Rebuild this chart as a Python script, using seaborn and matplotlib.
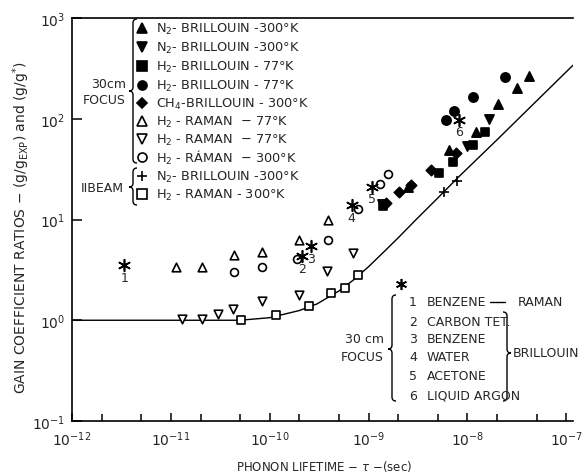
import matplotlib
matplotlib.use("Agg")
import matplotlib.pyplot as plt
import matplotlib.ticker as mticker
from matplotlib.path import Path
from matplotlib.patches import PathPatch
import seaborn as sns

# ---- measured values: phonon lifetime (s) and gain ratio ----
n2_bri_a_tau = [4.22e-8, 3.18e-8, 2.04e-8, 1.22e-8, 6.5e-9, 2.5e-9]
n2_bri_a_g = [267, 203, 141, 74, 49, 21]

n2_bri_b_tau = [1.66e-8, 9.9e-9, 1.36e-9]
n2_bri_b_g = [100, 54, 14.4]

h2_bri_sq_tau = [1.51e-8, 1.14e-8, 7.1e-9, 5.15e-9, 1.39e-9]
h2_bri_sq_g = [74, 55, 37.5, 29.2, 13.5]

h2_bri_ci_tau = [2.4e-8, 1.14e-8, 7.3e-9, 6.07e-9]
h2_bri_ci_g = [261, 165, 120, 98]

ch4_bri_tau = [7.66e-9, 4.28e-9, 2.02e-9, 1.49e-9, 2.68e-9]
ch4_bri_g = [46, 31.3, 18.9, 14.7, 22.2]

h2_ram77_up_tau = [1.13e-11, 2.08e-11, 4.4e-11, 8.45e-11, 1.96e-10, 3.85e-10]
h2_ram77_up_g = [3.35, 3.35, 4.4, 4.8, 6.3, 10.0]

h2_ram77_dn_tau = [1.3e-11, 2.08e-11, 3.0e-11, 4.3e-11, 8.4e-11, 1.96e-10, 3.77e-10, 6.9e-10]
h2_ram77_dn_g = [1.03, 1.03, 1.15, 1.28, 1.54, 1.77, 3.05, 4.6]

h2_ram300_tau = [4.4e-11, 8.45e-11, 1.87e-10, 3.85e-10, 7.9e-10, 1.3e-9, 1.57e-9]
h2_ram300_g = [3.0, 3.4, 4.1, 6.3, 12.6, 22.7, 28.5]

n2_beam_tau = [5.8e-9, 7.85e-9]
n2_beam_g = [18.9, 24.3]

h2_beam_tau = [5.1e-11, 1.17e-10, 2.5e-10, 4.2e-10, 5.8e-10, 7.8e-10]
h2_beam_g = [1.0, 1.12, 1.38, 1.85, 2.07, 2.79]

liquid_tau = [3.37e-12, 2.14e-10, 2.6e-10, 6.76e-10, 1.08e-9, 8.2e-9]
liquid_g = [3.5, 4.3, 5.4, 13.8, 21.2, 98]
liquid_ids = ["1", "2", "3", "4", "5", "6"]

# theoretical curve
theory_tau = [1e-12, 1e-11, 5e-11, 1e-10, 2e-10, 3e-10, 5e-10, 7e-10, 1e-9,
              1.5e-9, 2e-9, 3e-9, 5e-9, 8e-9, 2e-8, 5e-8, 1.17e-7]
theory_g = [1.0, 1.0, 1.0, 1.06, 1.25, 1.45, 1.95, 2.5, 3.4,
            5.0, 6.6, 9.9, 16.3, 26, 62, 150, 340]

x_tick_vals = [1e-12, 1e-11, 1e-10, 1e-9, 1e-8, 1e-7]
x_tick_labels = [r"$10^{-12}$", r"$10^{-11}$", r"$10^{-10}$", r"$10^{-9}$", r"$10^{-8}$", r"$10^{-7}$"]
y_tick_vals = [1e-1, 1e0, 1e1, 1e2, 1e3]
y_tick_labels = [r"$10^{-1}$", r"$10^{0}$", r"$10^{1}$", r"$10^{2}$", r"$10^{3}$"]

W, H = 587, 477
sns.set_style("ticks")
plt.rcParams["font.family"] = ["DejaVu Sans"]
plt.rcParams["mathtext.fontset"] = "dejavusans"

fig = plt.figure(figsize=(W / 100, H / 100), dpi=100)
ax = fig.add_axes([72 / W, 1 - 422 / H, (573 - 72) / W, (422 - 19) / H])
ax.set_xscale("log")
ax.set_yscale("log")


def P(x, y):
    return (x / W, 1 - y / H)


K = "black"
sns.lineplot(x=theory_tau, y=theory_g, color=K, lw=1.0, ax=ax, estimator=None, sort=False)

ASTER = (6, 2, 0)
series = [
    (n2_bri_a_tau, n2_bri_a_g, "^", True, 44),
    (n2_bri_b_tau, n2_bri_b_g, "v", True, 44),
    (h2_bri_sq_tau, h2_bri_sq_g, "s", True, 36),
    (h2_bri_ci_tau, h2_bri_ci_g, "o", True, 44),
    (ch4_bri_tau, ch4_bri_g, "D", True, 28),
    (h2_ram77_up_tau, h2_ram77_up_g, "^", False, 38),
    (h2_ram77_dn_tau, h2_ram77_dn_g, "v", False, 38),
    (h2_ram300_tau, h2_ram300_g, "o", False, 32),
    (h2_beam_tau, h2_beam_g, "s", False, 32),
]
for tx, gy, mk, filled, s in series:
    sns.scatterplot(x=tx, y=gy, marker=mk, s=s, color=K,
                    facecolor=K if filled else "white", edgecolor=K,
                    linewidth=1.2, ax=ax, legend=False, zorder=3)

sns.scatterplot(x=n2_beam_tau, y=n2_beam_g, marker="+", s=60, color=K,
                linewidth=1.2, ax=ax, legend=False, zorder=3)
sns.scatterplot(x=liquid_tau, y=liquid_g, marker=ASTER, s=70, color=K,
                linewidth=1.2, ax=ax, legend=False, zorder=3)
for t, g, lab in zip(liquid_tau, liquid_g, liquid_ids):
    ax.annotate(lab, (t, g), xytext=(0, -8.5), textcoords="offset points",
                ha="center", va="center", fontsize=9)

ax.set_xlim(1e-12, 1.17e-7)
ax.set_ylim(1e-1, 1e3)
ax.set_xticks(x_tick_vals)
ax.set_xticklabels(x_tick_labels)
ax.xaxis.set_minor_locator(mticker.LogLocator(base=10, subs=(2.0, 5.0), numticks=20))
ax.xaxis.set_minor_formatter(mticker.NullFormatter())
ax.set_yticks(y_tick_vals)
ax.set_yticklabels(y_tick_labels)
ax.yaxis.set_minor_locator(mticker.NullLocator())
ax.tick_params(axis="both", which="both", direction="in", color=K, labelsize=10, width=1.1)
ax.tick_params(axis="x", which="major", length=6, pad=6)
ax.tick_params(axis="x", which="minor", length=5)
ax.tick_params(axis="y", which="major", length=7, pad=5)
for side in ("left", "bottom", "top"):
    ax.spines[side].set_visible(True)
    ax.spines[side].set_linewidth(1.2)
    ax.spines[side].set_color(K)
ax.spines["right"].set_visible(False)

fig.text(*P(21, 228), r"GAIN COEFFICIENT RATIOS $-$ (g/g$_{\mathrm{EXP}}$) and (g/g$^{*}$)",
         rotation=90, ha="center", va="center", fontsize=10)
fig.text(*P(324, 467), r"PHONON LIFETIME $-$ $\tau$ $-$(sec)", ha="center", va="center", fontsize=8.5)


def brace(x, y0, y1, ym, d, tip):
    """Curly brace in figure pixels; d>0 opens right ({), d<0 opens left (})."""
    verts = [(x + d, y0), (x, y0), (x, y0 + abs(d)),
             (x, ym - abs(d)), (x, ym), (x - tip, ym),
             (x, ym), (x, ym + abs(d)),
             (x, y1 - abs(d)), (x, y1), (x + d, y1)]
    codes = [Path.MOVETO, Path.CURVE3, Path.CURVE3,
             Path.LINETO, Path.CURVE3, Path.CURVE3,
             Path.CURVE3, Path.CURVE3,
             Path.LINETO, Path.CURVE3, Path.CURVE3]
    pts = [P(vx, vy) for vx, vy in verts]
    fig.add_artist(PathPatch(Path(pts, codes), transform=fig.transFigure,
                             fill=False, lw=1.0, ec=K))


# upper key
key_rows = [
    ("^", True, r"N$_2$- BRILLOUIN -300°K"),
    ("v", True, r"N$_2$- BRILLOUIN -300°K"),
    ("s", True, r"H$_2$- BRILLOUIN - 77°K"),
    ("o", True, r"H$_2$- BRILLOUIN - 77°K"),
    ("D", True, r"CH$_4$-BRILLOUIN - 300°K"),
    ("^", False, r"H$_2$ - RAMAN  $-$ 77°K"),
    ("v", False, r"H$_2$ - RAMAN  $-$ 77°K"),
    ("o", False, r"H$_2$ - RÁMAN  $-$ 300°K"),
    ("+", False, r"N$_2$- BRILLOUIN -300°K"),
    ("s", False, r"H$_2$ - RAMAN - 300°K"),
]
row_y = [29, 48, 67, 86, 104, 122, 140, 158, 177, 195]
for (mk, filled, label), yy in zip(key_rows, row_y):
    fx, fy = P(142, yy)
    fig.add_artist(plt.Line2D([fx], [fy], marker=mk, ms=6.5 if mk != "D" else 5.5,
                              mfc=K if filled else "white", mec=K, mew=1.2,
                              transform=fig.transFigure, ls="none"))
    fig.text(*P(156, yy), label, ha="left", va="center", fontsize=9.3)

brace(133, 20, 164, 92, 4, 4)
brace(133, 169, 206, 188, 4, 4)
fig.text(*P(126, 85), "30cm", ha="right", va="center", fontsize=9)
fig.text(*P(126, 101), "FOCUS", ha="right", va="center", fontsize=9)
fig.text(*P(124, 189), "IIBEAM", ha="right", va="center", fontsize=9)

# lower key (liquids)
fx, fy = P(401, 285)
fig.add_artist(plt.Line2D([fx], [fy], marker=ASTER, ms=8, mec=K, mew=1.2,
                          transform=fig.transFigure, ls="none"))
liquid_rows = ["BENZENE", "CARBON TET.", "BENZENE", "WATER", "ACETONE", "LIQUID ARGON"]
liq_y = [303, 322, 340, 358, 377, 396]
for lab, name, yy in zip(liquid_ids, liquid_rows, liq_y):
    fig.text(*P(413, yy), lab, ha="center", va="center", fontsize=9)
    fig.text(*P(427, yy), name, ha="left", va="center", fontsize=9)
fig.add_artist(plt.Line2D([P(490, 0)[0], P(505, 0)[0]], [P(0, 303)[1]] * 2,
                          color=K, lw=1.0, transform=fig.transFigure))
fig.text(*P(518, 303), "RAMAN", ha="left", va="center", fontsize=9)
brace(392, 296, 402, 350, 4, 4)
brace(507, 313, 402, 354, -4, -4)
fig.text(*P(513, 354), "BRILLOUIN", ha="left", va="center", fontsize=9)
fig.text(*P(384, 340), "30 cm", ha="right", va="center", fontsize=9)
fig.text(*P(384, 358), "FOCUS", ha="right", va="center", fontsize=9)

fig.savefig("out.png", dpi=100)
